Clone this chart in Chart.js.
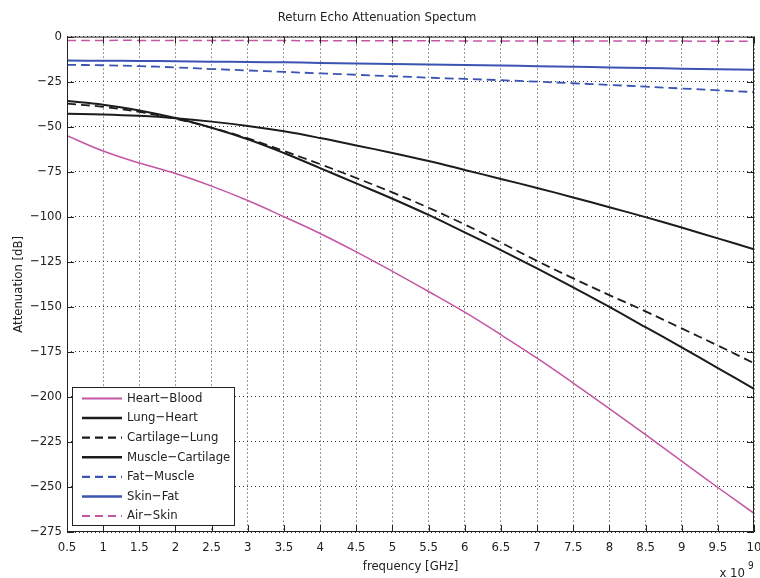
<!DOCTYPE html>
<html>
<head>
<meta charset="utf-8">
<script src="https://cdn.jsdelivr.net/npm/chart.js@4.4.1/dist/chart.umd.min.js"></script>
<style>
  html, body { margin: 0; padding: 0; background: #fff; }
  #okvir { width: 760px; height: 578px; position: relative; }
</style>
</head>
<body>
<div id="okvir"><canvas id="grafik" width="760" height="578"></canvas></div>
<script>
// frekvencija u GHz (osa je u jedinicama 1e9)
const frekvencije = [0.5, 1, 1.5, 2, 2.5, 3, 3.5, 4, 4.5, 5, 5.5, 6, 6.5, 7, 7.5, 8, 8.5, 9, 9.5, 10];

// slabljenje u dB, ocitano sa slike
const heartBlood = [-55, -63.5, -70.2, -76, -83, -91, -100, -109.3, -119.5, -130.3, -141.5, -153, -165.5, -178.5, -192.3, -206.5, -221, -235.7, -250.3, -264.6];
const lungHeart = [-35.8, -37.8, -41, -45.2, -50.6, -57, -64.6, -73, -81.5, -90, -99, -108.7, -118.5, -128.7, -139.2, -150, -161.3, -172.5, -184, -195.5];
const cartilageLung = [-37.2, -39, -41.8, -45.6, -50.6, -56.5, -63.5, -70.8, -78.5, -86.5, -95, -104.3, -114.3, -124.5, -134.2, -143.5, -152.5, -162, -171.5, -181.3];
const muscleCartilage = [-42.8, -43.2, -44, -45.3, -47.2, -49.6, -52.6, -56.3, -60.4, -64.6, -69.1, -74, -79, -84, -89.3, -94.7, -100.2, -106, -112, -118];
const fatMuscle = [-15.7, -15.9, -16.4, -17.1, -18, -18.8, -19.6, -20.4, -21.2, -22, -22.8, -23.5, -24.2, -25, -25.9, -26.8, -27.8, -28.8, -29.8, -30.8];
const skinFat = [-13.3, -13.4, -13.5, -13.7, -13.9, -14.1, -14.3, -14.6, -14.9, -15.2, -15.5, -15.8, -16.1, -16.4, -16.7, -17.1, -17.4, -17.8, -18.1, -18.4];
const airSkin = [-2.1, -2.1, -2.1, -2.2, -2.2, -2.2, -2.2, -2.3, -2.3, -2.3, -2.3, -2.4, -2.4, -2.4, -2.4, -2.5, -2.5, -2.5, -2.6, -2.6];

const nazivi = ['Heart\u2212Blood', 'Lung\u2212Heart', 'Cartilage\u2212Lung', 'Muscle\u2212Cartilage', 'Fat\u2212Muscle', 'Skin\u2212Fat', 'Air\u2212Skin'];
const yTikovi = [0, -25, -50, -75, -100, -125, -150, -175, -200, -225, -250, -275];

const FONT = "'DejaVu Sans', sans-serif";
const SIRINA = 'condensed'; // font-stretch ide ispred velicine u font stringu
const MAGENTA = '#c455a4';
const PLAVA = '#3b54b2';
const CRNA = '#1c1c1c';

function tacke(niz) {
    return niz.map((y, i) => ({ x: frekvencije[i], y: y }));
}

function serija(naziv, niz, boja, debljina, isprekidana) {
    return {
        label: naziv,
        data: tacke(niz),
        borderColor: boja,
        backgroundColor: boja,
        borderWidth: debljina,
        borderDash: isprekidana ? [9, 5] : [],
        pointRadius: 0,
        fill: false,
        tension: 0.4
    };
}

// okvir, unutrasnji tikovi, legenda i "x 10^9"
const dodaci = {
    id: 'dodaci',
    afterDatasetsDraw(chart) {
        const ctx = chart.ctx;
        const a = chart.chartArea;
        const sx = chart.scales.x, sy = chart.scales.y;
        ctx.save();
        ctx.strokeStyle = '#222';
        ctx.lineWidth = 1;
        ctx.setLineDash([]);
        ctx.strokeRect(a.left + 0.5, a.top + 0.5, a.right - a.left - 1, a.bottom - a.top - 1);

        const duz = 7;
        ctx.beginPath();
        sx.ticks.forEach(t => {
            const px = Math.round(sx.getPixelForValue(t.value)) + 0.5;
            ctx.moveTo(px, a.bottom); ctx.lineTo(px, a.bottom - duz);
            ctx.moveTo(px, a.top); ctx.lineTo(px, a.top + duz);
        });
        sy.ticks.forEach(t => {
            const py = Math.round(sy.getPixelForValue(t.value)) + 0.5;
            ctx.moveTo(a.left, py); ctx.lineTo(a.left + duz, py);
            ctx.moveTo(a.right, py); ctx.lineTo(a.right - duz, py);
        });
        ctx.stroke();

        // legenda u donjem levom uglu
        const lx = a.left + 5, ly = 387, lw = 162, lh = 138;
        ctx.fillStyle = '#fff';
        ctx.fillRect(lx, ly, lw, lh);
        ctx.strokeStyle = '#222';
        ctx.strokeRect(lx + 0.5, ly + 0.5, lw, lh);
        ctx.font = SIRINA + ' 13px ' + FONT;
        ctx.textBaseline = 'middle';
        ctx.textAlign = 'left';
        chart.data.datasets.forEach((ds, i) => {
            const yy = ly + 11.5 + i * 19.6;
            ctx.strokeStyle = ds.borderColor;
            ctx.lineWidth = ds.borderWidth + 0.5;
            ctx.setLineDash(ds.borderDash.length ? [8, 5] : []);
            ctx.beginPath();
            ctx.moveTo(lx + 10, yy);
            ctx.lineTo(lx + 50, yy);
            ctx.stroke();
            ctx.fillStyle = '#222';
            ctx.fillText(ds.label, lx + 55, yy);
        });
        ctx.setLineDash([]);

        // mnozilac ose x
        ctx.fillStyle = '#222';
        ctx.font = SIRINA + ' 13px ' + FONT;
        ctx.textAlign = 'right';
        ctx.textBaseline = 'alphabetic';
        ctx.fillText('x 10', 745, 577);
        ctx.font = SIRINA + ' 10px ' + FONT;
        ctx.textAlign = 'left';
        ctx.fillText('9', 748, 569);
        ctx.restore();
    }
};

const fontOse = { family: FONT, size: 13, weight: SIRINA };

new Chart(document.getElementById('grafik').getContext('2d'), {
    type: 'line',
    data: {
        datasets: [
            serija(nazivi[0], heartBlood, MAGENTA, 1.5, false),
            serija(nazivi[1], lungHeart, CRNA, 2, false),
            serija(nazivi[2], cartilageLung, CRNA, 1.8, true),
            serija(nazivi[3], muscleCartilage, CRNA, 2, false),
            serija(nazivi[4], fatMuscle, PLAVA, 1.8, true),
            serija(nazivi[5], skinFat, PLAVA, 2, false),
            serija(nazivi[6], airSkin, MAGENTA, 1.5, true)
        ]
    },
    options: {
        responsive: false,
        animation: false,
        layout: { padding: { top: 0, right: 6, bottom: 0, left: 0 } },
        plugins: {
            legend: { display: false },
            tooltip: { enabled: false },
            title: {
                display: true,
                text: 'Return Echo Attenuation Spectum',
                color: '#222',
                font: fontOse,
                padding: { top: 10, bottom: 11 }
            }
        },
        scales: {
            x: {
                type: 'linear',
                min: 0.5,
                max: 10,
                afterFit: s => { s.height = 46; s.paddingLeft = 0; s.paddingRight = 0; },
                border: { display: false, dash: [1, 3] },
                grid: { color: '#333', drawTicks: false, lineWidth: 1 },
                ticks: {
                    stepSize: 0.5,
                    autoSkip: false,
                    maxRotation: 0,
                    padding: 8,
                    color: '#222',
                    font: fontOse,
                    callback: v => String(v)
                },
                title: {
                    display: true,
                    text: 'frequency [GHz]',
                    color: '#222',
                    font: fontOse,
                    padding: { top: 0, bottom: 4 }
                }
            },
            y: {
                type: 'linear',
                min: -275,
                max: 0,
                afterFit: s => { s.width = 67; s.paddingTop = 0; s.paddingBottom = 0; },
                afterBuildTicks: s => { s.ticks = yTikovi.map(v => ({ value: v })); },
                border: { display: false, dash: [1, 3] },
                grid: { color: '#333', drawTicks: false, lineWidth: 1 },
                ticks: {
                    padding: 5,
                    color: '#222',
                    font: fontOse,
                    callback: v => (v < 0 ? '\u2212' + Math.abs(v) : String(v))
                },
                title: {
                    display: true,
                    text: 'Attenuation [dB]',
                    color: '#222',
                    font: fontOse,
                    padding: { top: 11, bottom: 0 }
                }
            }
        }
    },
    plugins: [dodaci]
});
</script>
</body>
</html>
